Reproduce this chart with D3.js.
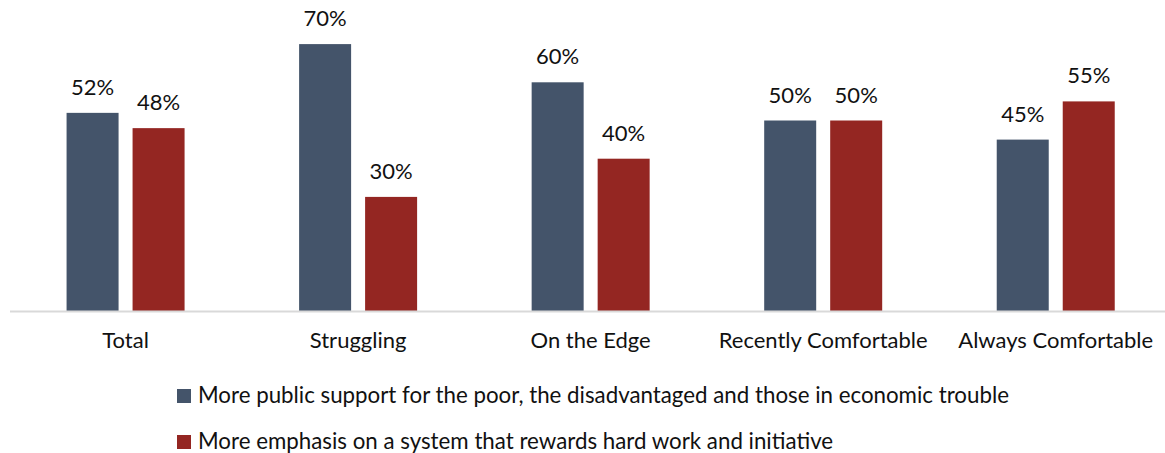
<!DOCTYPE html>
<html><head><meta charset="utf-8">
<script src="https://cdn.jsdelivr.net/npm/d3@7"></script>
<style>
  body { margin: 0; background: #fff; }
  text { font-family: Lato, "Open Sans", sans-serif; fill: #111; }
</style>
</head><body>
<script>
// data
var categories = ["Total", "Struggling", "On the Edge", "Recently Comfortable", "Always Comfortable"];
var seriesNames = [
  "More public support for the poor, the disadvantaged and those in economic trouble",
  "More emphasis on a system that rewards hard work and initiative"
];
var supportValues = [52, 70, 60, 50, 45];
var emphasisValues = [48, 30, 40, 50, 55];
var seriesColors = ["#44546A", "#942622"];

var attrs = {
  svgWidth: 1165,
  svgHeight: 453,
  baseline: 311.5,
  pxPerPoint: 3.82,
  barWidth: 52,
  barGap: 14,
  fontSize: 22
};

var table = categories.map(function (c, i) {
  return { cat: c, values: [supportValues[i], emphasisValues[i]] };
});

var svg = d3.select("body").append("svg")
  .attr("width", attrs.svgWidth)
  .attr("height", attrs.svgHeight);

// scales
var x = d3.scaleBand()
  .domain(categories)
  .range([9.3, 1172])
  .padding(0);

var bw = x.bandwidth();
var pairWidth = attrs.barWidth * 2 + attrs.barGap;
var xInner = d3.scaleBand()
  .domain([0, 1])
  .range([bw / 2 - pairWidth / 2, bw / 2 + pairWidth / 2])
  .paddingInner(attrs.barGap / (attrs.barWidth + attrs.barGap))
  .paddingOuter(0);

var y = d3.scaleLinear()
  .domain([0, 100])
  .range([attrs.baseline, attrs.baseline - 100 * attrs.pxPerPoint]);

// bars
var groups = svg.selectAll(".group").data(table).enter().append("g")
  .attr("class", "group")
  .attr("transform", function (d) { return "translate(" + x(d.cat) + ",0)"; });

var cells = groups.selectAll(".cell")
  .data(function (d) { return d.values.map(function (v, i) { return { s: i, v: v }; }); })
  .enter();

cells.append("rect")
  .attr("x", function (d) { return xInner(d.s); })
  .attr("width", xInner.bandwidth())
  .attr("y", function (d) { return y(d.v); })
  .attr("height", function (d) { return y(0) - y(d.v); })
  .attr("fill", function (d) { return seriesColors[d.s]; });

cells.append("text")
  .attr("x", function (d) { return xInner(d.s) + xInner.bandwidth() / 2; })
  .attr("y", function (d) { return y(d.v) - 18; })
  .attr("text-anchor", "middle")
  .style("font-size", attrs.fontSize + "px")
  .text(function (d) { return d.v + "%"; });

// axis
var xAxis = d3.axisBottom(x).tickSize(0).tickPadding(0);
var axisG = svg.append("g")
  .attr("transform", "translate(0," + attrs.baseline + ")")
  .call(xAxis);
axisG.select(".domain").attr("stroke", "#d9d9d9").attr("stroke-width", 2)
  .attr("d", "M10,0H1165");
axisG.selectAll(".tick text")
  .attr("dy", null)
  .attr("y", 36.5)
  .style("font-size", attrs.fontSize + "px")
  .style("font-family", "Lato, sans-serif")
  .attr("fill", "#111");

// legend
var legend = svg.selectAll(".legend").data(seriesNames).enter().append("g")
  .attr("class", "legend")
  .attr("transform", function (d, i) { return "translate(177," + (389 + i * 46) + ")"; });

legend.append("rect")
  .attr("width", 14)
  .attr("height", 14)
  .attr("fill", function (d, i) { return seriesColors[i]; });

legend.append("text")
  .attr("x", 21)
  .attr("y", 14)
  .style("font-size", "22.3px")
  .text(function (d) { return d; });
</script>
</body></html>
